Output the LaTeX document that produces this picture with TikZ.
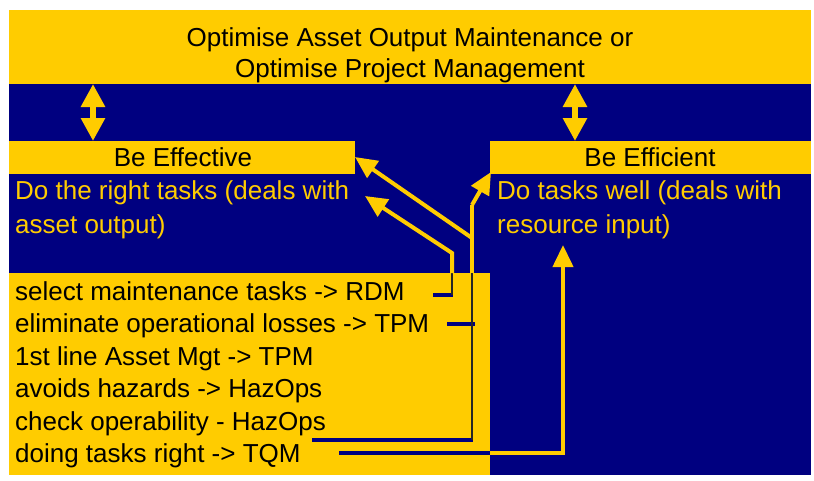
\documentclass[tikz,border=0pt]{standalone}
\usepackage{fontspec}
\setmainfont{Liberation Sans}
\usetikzlibrary{arrows.meta}
\definecolor{ygold}{HTML}{FFCC00}
\definecolor{navyb}{HTML}{000080}
\begin{document}
\begin{tikzpicture}[x=1pt,y=-1pt,
  txt/.style={font=\fontsize{26}{30}\selectfont, inner sep=0pt},
  blk/.style={txt, text=black},
  yel/.style={txt, text=ygold},
  panel/.style={inner sep=0pt, outer sep=0pt, anchor=north west},
  yline/.style={draw=ygold, line width=4pt, line join=miter},
  nstub/.style={draw=navyb, line width=4pt},
  dline/.style={draw=black!85, line width=1.5pt},
  tipa/.style={-{Triangle[length=22pt,width=20pt]}},
  dbl/.style={{Triangle[length=23pt,width=23pt]}-{Triangle[length=23pt,width=23pt]}, draw=ygold, line width=6pt}
]
\useasboundingbox (0,0) rectangle (814,480);
% panels
\node[panel, fill=navyb, minimum width=802pt, minimum height=391pt] (bg) at (9,84) {};
\node[panel, fill=ygold, minimum width=802pt, minimum height=74pt] (band) at (9,10) {};
\node[panel, fill=ygold, minimum width=346pt, minimum height=33pt] (effbox) at (9,141) {};
\node[panel, fill=ygold, minimum width=321pt, minimum height=33pt] (effibox) at (490,141) {};
\node[panel, fill=ygold, minimum width=481pt, minimum height=202pt] (listbox) at (9,273) {};
% texts
\node[blk, anchor=base] (t1) at (410,46) {Optimise Asset Output Maintenance or};
\node[blk, anchor=base] (t2) at (410,77) {Optimise Project Management};
\node[blk, anchor=base] (effh) at (183,166) {Be Effective};
\node[blk, anchor=base] (effih) at (650,166) {Be Efficient};
\node[yel, anchor=base west] (efft1) at (15,199) {Do the right tasks (deals with};
\node[yel, anchor=base west] (efft2) at (15,233) {asset output)};
\node[yel, anchor=base west] (effit1) at (497,199) {Do tasks well (deals with};
\node[yel, anchor=base west] (effit2) at (497,233) {resource input)};
\node[blk, anchor=base west] (l1) at (15,300) {select maintenance tasks -> RDM};
\node[blk, anchor=base west] (l2) at (15,332.5) {eliminate operational losses -> TPM};
\node[blk, anchor=base west] (l3) at (15,365) {1st line Asset Mgt -> TPM};
\node[blk, anchor=base west] (l4) at (15,397.5) {avoids hazards -> HazOps};
\node[blk, anchor=base west] (l5) at (15,430) {check operability - HazOps};
\node[blk, anchor=base west] (l6) at (15,462.5) {doing tasks right -> TQM};
% double arrows
\coordinate (dlt) at (93,84);  \coordinate (dlb) at (93,141);
\coordinate (drt) at (575,84); \coordinate (drb) at (575,141);
\draw[dbl] (dlt) -- (dlb);
\draw[dbl] (drt) -- (drb);
% connector waypoints
\coordinate (rdmA) at (433,295); \coordinate (rdmB) at (453,295);
\coordinate (rdmV) at (452,295); \coordinate (rdmE) at (452,273);
\coordinate (rdmK) at (452,253); \coordinate (rdmT) at (365,196);
\coordinate (tpmA) at (447,324); \coordinate (tpmB) at (475,324);
\coordinate (hzA) at (312,440);  \coordinate (hzB) at (473,440);
\coordinate (hzV) at (472,440);  \coordinate (hzE) at (472,273);
\coordinate (hzK1) at (472,238); \coordinate (hzK2) at (472,205);
\coordinate (effT) at (355,157); \coordinate (effiT) at (491,172);
\coordinate (tqA) at (339,453);  \coordinate (tqE) at (490,453);
\coordinate (tqK) at (563,453);  \coordinate (tqT) at (563,245);
% RDM connector
\draw[nstub] (rdmA) -- (rdmB);
\draw[dline] (rdmV) -- (rdmE);
\draw[yline, tipa] (rdmE) -- (rdmK) -- (rdmT);
% TPM / HazOps connectors
\draw[nstub] (tpmA) -- (tpmB);
\draw[nstub] (hzA) -- (hzB);
\draw[dline] (hzV) -- (hzE);
\draw[yline] (hzE) -- (hzK2);
\draw[yline, tipa] (hzK1) -- (effT);
\draw[yline, tipa] (hzK2) -- (effiT);
% TQM connector
\draw[nstub] (tqA) -- (tqE);
\draw[yline, tipa] (tqE) -- (tqK) -- (tqT);
\end{tikzpicture}
\end{document}
